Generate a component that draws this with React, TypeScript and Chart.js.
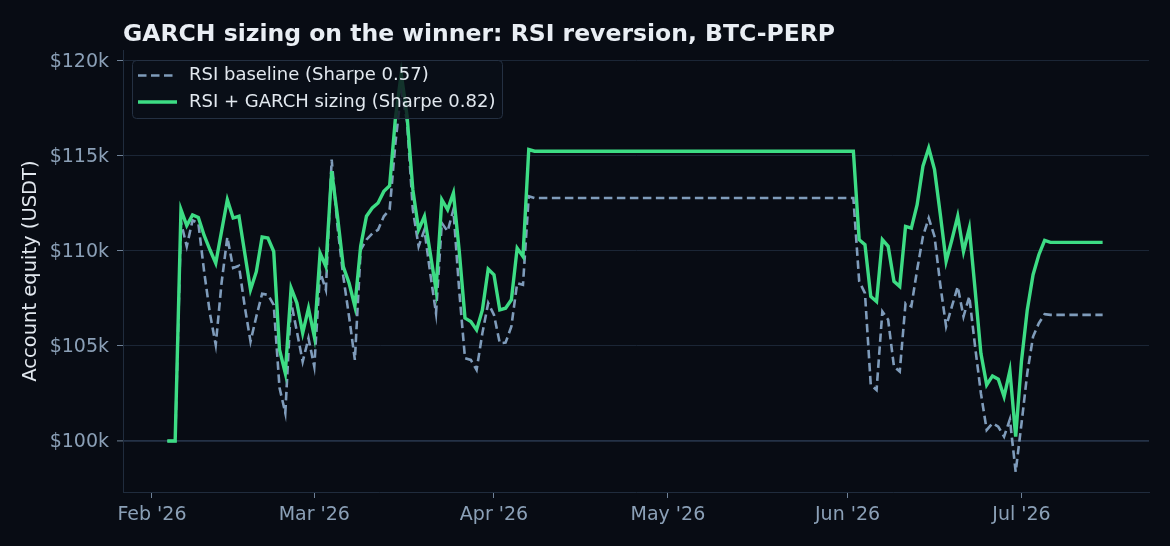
import { useEffect, useRef } from "react";
import { Chart, registerables } from "chart.js";

Chart.register(...registerables);

const FONT = "'DejaVu Sans', 'Liberation Sans', sans-serif";

const TITLE = "GARCH sizing on the winner: RSI reversion, BTC-PERP";
const Y_LABEL = "Account equity (USDT)";
const seriesLabels = ["RSI baseline (Sharpe 0.57)", "RSI + GARCH sizing (Sharpe 0.82)"];

// x values: days since 2026-02-01
const dayOffsets = [
  2.65, 4, 5, 6, 7, 8, 9, 10, 11, 12, 13, 14, 15, 16, 17, 18, 19, 20, 21, 22,
  23, 24, 25, 26, 27, 28, 29, 30, 31, 32, 33, 34, 35, 36, 37, 38, 39, 40, 41, 42,
  43, 44, 45, 46, 47, 48, 49, 50, 51, 52, 53, 54, 55, 56, 57, 58, 59, 60, 61, 62,
  63, 64, 65, 66, 67, 68, 69, 70, 71, 72, 73, 74, 75, 76, 77, 78, 79, 80, 81, 82,
  83, 84, 85, 86, 87, 88, 89, 90, 91, 92, 93, 94, 95, 96, 97, 98, 99, 100, 101, 102,
  103, 104, 105, 106, 107, 108, 109, 110, 111, 112, 113, 114, 115, 116, 117, 118, 119, 120, 121, 122,
  123, 124, 125, 126, 127, 128, 129, 130, 131, 132, 133, 134, 135, 136, 137, 138, 139, 140, 141, 142,
  143, 144, 145, 146, 147, 148, 149, 150, 151, 152, 153, 154, 155, 156, 157, 158, 159, 160, 161, 162,
  163, 164,
];

// equity in thousands of USDT
const baselineEquityK = [
  100, 100, 111.5, 110.23, 111.6, 111.45, 108.9, 106.7, 105.05, 108.3, 110.72, 109.09, 109.21, 107.07, 105.23, 106.54, 107.74, 107.68, 107.16, 102.8,
  101.47, 107.3, 105.75, 104.17, 105.4, 103.91, 108.9, 107.95, 114.79, 111.28, 108.65, 106.54, 104.26, 110.05, 110.58, 110.9, 111.1, 111.81, 112.16, 115.67,
  118.4, 116.8, 112.16, 110.23, 111.1, 108.82, 106.72, 111.46, 111.02, 112.16, 107.9, 104.35, 104.26, 103.74, 105.67, 107.25, 106.63, 105.14, 105.17, 106.02,
  108.3, 108.21, 112.86, 112.77, 112.77, 112.77, 112.77, 112.77, 112.77, 112.77, 112.77, 112.77, 112.77, 112.77, 112.77, 112.77, 112.77, 112.77, 112.77, 112.77,
  112.77, 112.77, 112.77, 112.77, 112.77, 112.77, 112.77, 112.77, 112.77, 112.77, 112.77, 112.77, 112.77, 112.77, 112.77, 112.77, 112.77, 112.77, 112.77, 112.77,
  112.77, 112.77, 112.77, 112.77, 112.77, 112.77, 112.77, 112.77, 112.77, 112.77, 112.77, 112.77, 112.77, 112.77, 112.77, 112.77, 112.77, 112.77, 112.77, 108.4,
  107.77, 102.95, 102.68, 106.81, 106.37, 103.91, 103.65, 107.25, 107.07, 109.0, 110.75, 111.72, 110.75, 108.2, 106.02, 107.07, 108.12, 106.54, 107.6, 104.96,
  102.51, 100.58, 100.93, 100.75, 100.23, 101.14, 98.38, 100.9, 103.56, 105.49, 106.19, 106.67, 106.63, 106.63, 106.63, 106.63, 106.63, 106.63, 106.63, 106.63,
  106.63, 106.63,
];

const garchEquityK = [
  100, 100, 112.16, 111.32, 111.88, 111.75, 110.8, 110.05, 109.35, 111.02, 112.68, 111.72, 111.81, 109.88, 107.95, 108.9, 110.72, 110.67, 109.96, 104.8,
  103.56, 108.04, 107.25, 105.67, 106.98, 105.49, 109.88, 109.17, 114.18, 111.81, 109.17, 108.3, 107.07, 110.23, 111.81, 112.25, 112.51, 113.12, 113.42, 116.98,
  119.3, 117.1, 113.21, 111.1, 111.81, 109.88, 107.95, 112.68, 112.16, 113.03, 110.0, 106.46, 106.28, 105.84, 106.89, 109.04, 108.74, 106.89, 106.98, 107.42,
  110.14, 109.7, 115.32, 115.23, 115.23, 115.23, 115.23, 115.23, 115.23, 115.23, 115.23, 115.23, 115.23, 115.23, 115.23, 115.23, 115.23, 115.23, 115.23, 115.23,
  115.23, 115.23, 115.23, 115.23, 115.23, 115.23, 115.23, 115.23, 115.23, 115.23, 115.23, 115.23, 115.23, 115.23, 115.23, 115.23, 115.23, 115.23, 115.23, 115.23,
  115.23, 115.23, 115.23, 115.23, 115.23, 115.23, 115.23, 115.23, 115.23, 115.23, 115.23, 115.23, 115.23, 115.23, 115.23, 115.23, 115.23, 115.23, 115.23, 110.58,
  110.32, 107.6, 107.33, 110.58, 110.23, 108.39, 108.12, 111.28, 111.19, 112.42, 114.44, 115.4, 114.26, 111.9, 109.44, 110.58, 111.81, 109.96, 111.19, 107.95,
  104.61, 102.95, 103.42, 103.25, 102.33, 103.7, 100.23, 104.2, 106.89, 108.74, 109.79, 110.54, 110.44, 110.44, 110.44, 110.44, 110.44, 110.44, 110.44, 110.44,
  110.44, 110.44,
];

const monthTickDays = [0, 28, 59, 89, 120, 150];
const monthTickLabels = ["Feb '26", "Mar '26", "Apr '26", "May '26", "Jun '26", "Jul '26"];
const equityTicksK = [100, 105, 110, 115, 120];

const BG = "#080c14";
const GRID = "#1b2636";
const AXIS = "#202c3d";
const TICK_MARK = "#6f8298";
const LABEL = "#8ba0b7";
const DASH = "#7f9cbb";
const GREEN = "#3ddc84";
const TEXT = "#e2e8ef";
const DASH_PATTERN = [8.5, 4.5];

export default function App() {
  const ref = useRef<HTMLCanvasElement | null>(null);

  useEffect(() => {
    document.body.style.margin = "0";
    document.body.style.background = BG;
    const canvas = ref.current;
    if (!canvas) return;

    const bgPlugin = {
      id: "bg",
      beforeDraw(chart: any) {
        const c = chart.ctx;
        c.save();
        c.fillStyle = BG;
        c.fillRect(0, 0, chart.width, chart.height);
        c.restore();
      },
    };

    const overlayPlugin = {
      id: "overlay",
      afterDraw(chart: any) {
        const c = chart.ctx as CanvasRenderingContext2D;
        const area = chart.chartArea;
        c.save();
        // title
        c.font = `bold 23.5px ${FONT}`;
        c.fillStyle = "#e9eef4";
        c.textAlign = "left";
        c.textBaseline = "alphabetic";
        c.fillText(TITLE, area.left, 40.5);

        // legend
        const lx = 132, ly = 60, lw = 370, lh = 58;
        c.beginPath();
        (c as any).roundRect(lx + 0.5, ly + 0.5, lw, lh, 4);
        c.fillStyle = "rgba(10,15,24,0.82)";
        c.fill();
        c.strokeStyle = "#243042";
        c.lineWidth = 1;
        c.stroke();

        c.font = `18px ${FONT}`;
        c.textBaseline = "middle";
        c.fillStyle = TEXT;

        // row 1 dashed
        c.beginPath();
        c.setLineDash(DASH_PATTERN);
        c.strokeStyle = DASH;
        c.lineWidth = 2.6;
        c.moveTo(138, 75.5);
        c.lineTo(177, 75.5);
        c.stroke();
        c.setLineDash([]);
        c.fillText(seriesLabels[0], 189, 75.5);

        // row 2 solid
        c.beginPath();
        c.strokeStyle = GREEN;
        c.lineWidth = 3.4;
        c.moveTo(138, 102);
        c.lineTo(177, 102);
        c.stroke();
        c.fillText(seriesLabels[1], 189, 102);
        c.restore();
      },
    };

    const chart = new Chart(canvas, {
      type: "line",
      data: {
        datasets: [
          {
            label: seriesLabels[0],
            data: dayOffsets.map((d, i) => ({ x: d, y: baselineEquityK[i] })),
            borderColor: DASH,
            borderWidth: 2.6,
            borderDash: DASH_PATTERN,
            pointRadius: 0,
            tension: 0,
            fill: false,
            order: 2,
          },
          {
            label: seriesLabels[1],
            data: dayOffsets.map((d, i) => ({ x: d, y: garchEquityK[i] })),
            borderColor: GREEN,
            borderWidth: 3.4,
            pointRadius: 0,
            tension: 0,
            fill: false,
            order: 1,
          },
        ],
      },
      options: {
        responsive: false,
        animation: false,
        devicePixelRatio: 1,
        layout: { padding: { top: 50, right: 21, left: 0, bottom: 0 } },
        plugins: {
          legend: { display: false },
          title: { display: false },
          tooltip: { enabled: false },
        },
        scales: {
          x: {
            type: "linear",
            min: -5,
            max: 172,
            afterBuildTicks: (s: any) => {
              s.ticks = monthTickDays.map((v) => ({ value: v }));
            },
            afterFit: (s: any) => {
              s.height = 54;
            },
            grid: {
              drawOnChartArea: false,
              drawTicks: true,
              tickLength: 6,
              tickColor: TICK_MARK,
              tickWidth: 1,
            },
            border: { color: AXIS, width: 1 },
            ticks: {
              color: LABEL,
              font: { family: FONT, size: 19 },
              padding: 6,
              maxRotation: 0,
              autoSkip: false,
              callback: (v: any) => {
                const i = monthTickDays.indexOf(Number(v));
                return i >= 0 ? monthTickLabels[i] : "";
              },
            },
          },
          y: {
            type: "linear",
            min: 97.32,
            max: 120.55,
            afterBuildTicks: (s: any) => {
              s.ticks = equityTicksK.map((v) => ({ value: v }));
            },
            afterFit: (s: any) => {
              s.width = 123;
            },
            grid: {
              color: (c: any) => (c.tick && c.tick.value === 100 ? "#243247" : GRID),
              lineWidth: (c: any) => (c.tick && c.tick.value === 100 ? 1.8 : 1),
              drawTicks: true,
              tickLength: 6,
              tickColor: TICK_MARK,
              tickWidth: 1,
            },
            border: { color: AXIS, width: 1 },
            ticks: {
              color: LABEL,
              font: { family: FONT, size: 19 },
              padding: 8,
              labelOffset: 1.5,
              callback: (v: any) => `$${v}k`,
            },
            title: {
              display: true,
              text: Y_LABEL,
              color: TEXT,
              font: { family: FONT, size: 19.5 },
              padding: { top: 19, bottom: 0 },
            },
          },
        },
      },
      plugins: [bgPlugin, overlayPlugin],
    });

    return () => chart.destroy();
  }, []);

  return (
    <div style={{ width: 1170, height: 546, background: BG }}>
      <canvas ref={ref} width={1170} height={546} style={{ display: "block" }} />
    </div>
  );
}
